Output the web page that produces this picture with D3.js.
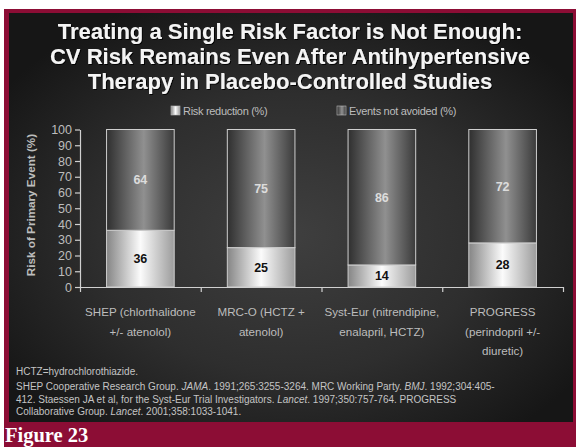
<!DOCTYPE html>
<html>
<head>
<meta charset="utf-8">
<script src="https://cdn.jsdelivr.net/npm/d3@7"></script>
<style>
  html, body { margin: 0; padding: 0; background: #ffffff; }
  svg { display: block; }
</style>
</head>
<body>
<script>
// Trials and their outcome split (percent of primary events)
const trials = ["SHEP", "MRC-O", "Syst-Eur", "PROGRESS"];
const trialLabels = [
  ["SHEP (chlorthalidone", "+/- atenolol)"],
  ["MRC-O (HCTZ +", "atenolol)"],
  ["Syst-Eur (nitrendipine,", "enalapril, HCTZ)"],
  ["PROGRESS", "(perindopril +/-", "diuretic)"]
];
const riskReduction = [36, 25, 14, 28];
const eventsNotAvoided = [64, 75, 86, 72];
const yTickValues = [0, 10, 20, 30, 40, 50, 60, 70, 80, 90, 100];
const seriesNames = ["Risk reduction (%)", "Events not avoided (%)"];

const titleLines = [
  "Treating a Single Risk Factor is Not Enough:",
  "CV Risk Remains Even After Antihypertensive",
  "Therapy in Placebo-Controlled Studies"
];
const yAxisTitle = "Risk of Primary Event (%)";
const footnoteLines = [
  [["HCTZ=hydrochlorothiazide.", false]],
  [["SHEP Cooperative Research Group. ", false], ["JAMA", true], [". 1991;265:3255-3264. MRC Working Party. ", false], ["BMJ", true], [". 1992;304:405-", false]],
  [["412. Staessen JA et al, for the Syst-Eur Trial Investigators. ", false], ["Lancet", true], [". 1997;350:757-764. PROGRESS", false]],
  [["Collaborative Group. ", false], ["Lancet", true], [". 2001;358:1033-1041.", false]]
];
const figureCaption = "Figure 23";

const W = 576, H = 447;
const svg = d3.select("body").append("svg").attr("width", W).attr("height", H);
const defs = svg.append("defs");

// Panel background: soft radial light
const bg = defs.append("radialGradient").attr("id", "bgGrad")
  .attr("cx", 0.5).attr("cy", 0.54).attr("r", 0.62);
bg.append("stop").attr("offset", 0).attr("stop-color", "#3f3f3f");
bg.append("stop").attr("offset", 0.55).attr("stop-color", "#2e2e2e");
bg.append("stop").attr("offset", 1).attr("stop-color", "#161616");

// Bar fills: cylinder-like horizontal shading
const gLight = defs.append("linearGradient").attr("id", "lightGrad")
  .attr("x1", 0).attr("x2", 1).attr("y1", 0).attr("y2", 0);
gLight.append("stop").attr("offset", 0).attr("stop-color", "#858585");
gLight.append("stop").attr("offset", 0.5).attr("stop-color", "#fbfbfb");
gLight.append("stop").attr("offset", 1).attr("stop-color", "#9c9c9c");

const gDark = defs.append("linearGradient").attr("id", "darkGrad")
  .attr("x1", 0).attr("x2", 1).attr("y1", 0).attr("y2", 0);
gDark.append("stop").attr("offset", 0).attr("stop-color", "#2f2f2f");
gDark.append("stop").attr("offset", 0.55).attr("stop-color", "#909090");
gDark.append("stop").attr("offset", 1).attr("stop-color", "#3a3a3a");

const shadow = defs.append("filter").attr("id", "titleShadow")
  .attr("x", "-5%").attr("y", "-20%").attr("width", "110%").attr("height", "150%");
shadow.append("feDropShadow").attr("dx", 1).attr("dy", 1)
  .attr("stdDeviation", 0.6).attr("flood-color", "#000").attr("flood-opacity", 0.9);

// Frame
svg.append("rect").attr("x", 4).attr("y", 9).attr("width", W - 4).attr("height", H - 9)
  .attr("fill", "#8c0d35");
svg.append("rect").attr("x", 9).attr("y", 13).attr("width", 564).attr("height", 409)
  .attr("fill", "url(#bgGrad)");

// Title
svg.append("g").attr("filter", "url(#titleShadow)")
  .selectAll("text").data(titleLines).join("text")
  .attr("x", 290).attr("y", (d, i) => 39 + i * 25)
  .attr("text-anchor", "middle")
  .attr("font-family", "Liberation Sans, Arial, sans-serif")
  .attr("font-weight", "bold").attr("font-size", 22)
  .attr("fill", "#f4f4f4")
  .text(d => d);

// Scales
const x = d3.scaleBand().domain(trials).range([80, 563])
  .paddingInner(0.44).paddingOuter(0.22);
const y = d3.scaleLinear().domain([0, 100]).range([287, 129.5]);
const xb = d3.scaleLinear().domain([0, trials.length]).range([80, 563]);

// Legend
const legend = svg.append("g");
const legendX = [171, 337];
const legendFills = ["url(#lightGrad)", "url(#darkGrad)"];
seriesNames.forEach((name, i) => {
  legend.append("rect").attr("x", legendX[i]).attr("y", 106).attr("width", 9).attr("height", 9)
    .attr("fill", legendFills[i]).attr("stroke", "#bdbdbd").attr("stroke-width", 0.6);
  legend.append("text").attr("x", legendX[i] + 12).attr("y", 114.5)
    .attr("font-family", "Liberation Sans, Arial, sans-serif")
    .attr("font-size", 11).attr("fill", "#bdbdbd")
    .attr("letter-spacing", -0.3)
    .text(name);
});

// Y axis
const yAxis = svg.append("g").attr("transform", "translate(80,0)")
  .call(d3.axisLeft(y).tickValues(yTickValues).tickSize(5).tickSizeOuter(0).tickPadding(3));
yAxis.select(".domain").attr("stroke", "#d0d0d0").attr("stroke-width", 1.2);
yAxis.selectAll(".tick line").attr("stroke", "#d0d0d0").attr("stroke-width", 1.2);
yAxis.selectAll(".tick text").attr("fill", "#bdbdbd")
  .attr("font-family", "Liberation Sans, Arial, sans-serif").attr("font-size", 12.5);

svg.append("text")
  .attr("transform", "translate(35,205) rotate(-90)")
  .attr("text-anchor", "middle")
  .attr("font-family", "Liberation Sans, Arial, sans-serif")
  .attr("font-weight", "bold").attr("font-size", 11.7)
  .attr("fill", "#bdbdbd")
  .text(yAxisTitle);

// X axis with boundary ticks between trials
const xAxis = svg.append("g").attr("transform", "translate(0,287)")
  .call(d3.axisBottom(xb).tickValues(d3.range(0, trials.length + 1)).tickSize(5)
    .tickSizeOuter(0).tickFormat(""));
xAxis.select(".domain").attr("stroke", "#d0d0d0").attr("stroke-width", 1.2);
xAxis.selectAll(".tick line").attr("stroke", "#d0d0d0").attr("stroke-width", 1.2);

// Stacked bars
const rows = trials.map((t, i) => ({ trial: t, low: riskReduction[i], high: eventsNotAvoided[i] }));
const bars = svg.append("g");
bars.selectAll("rect.low").data(rows).join("rect").attr("class", "low")
  .attr("x", d => x(d.trial)).attr("width", x.bandwidth())
  .attr("y", d => y(d.low)).attr("height", d => y(0) - y(d.low))
  .attr("fill", "url(#lightGrad)").attr("stroke", "#cfcfcf").attr("stroke-width", 1);
bars.selectAll("rect.high").data(rows).join("rect").attr("class", "high")
  .attr("x", d => x(d.trial)).attr("width", x.bandwidth())
  .attr("y", d => y(d.low + d.high)).attr("height", d => y(d.low) - y(d.low + d.high))
  .attr("fill", "url(#darkGrad)").attr("stroke", "#cfcfcf").attr("stroke-width", 1);

const labelFont = "Liberation Sans, Arial, sans-serif";
bars.selectAll("text.low").data(rows).join("text").attr("class", "low")
  .attr("x", d => x(d.trial) + x.bandwidth() / 2)
  .attr("y", d => (y(0) + y(d.low)) / 2 + 4.5)
  .attr("text-anchor", "middle").attr("font-family", labelFont)
  .attr("font-weight", "bold").attr("font-size", 12.5).attr("fill", "#111")
  .text(d => d.low);
bars.selectAll("text.high").data(rows).join("text").attr("class", "high")
  .attr("x", d => x(d.trial) + x.bandwidth() / 2)
  .attr("y", d => (y(d.low) + y(d.low + d.high)) / 2 + 4.5)
  .attr("text-anchor", "middle").attr("font-family", labelFont)
  .attr("font-weight", "bold").attr("font-size", 12.5).attr("fill", "#dcdcdc")
  .text(d => d.high);

// Category labels
const cat = svg.append("g");
trials.forEach((t, i) => {
  const txt = cat.append("text")
    .attr("text-anchor", "middle").attr("font-family", labelFont)
    .attr("font-size", 11.6).attr("fill", "#bdbdbd");
  trialLabels[i].forEach((line, j) => {
    txt.append("tspan").attr("x", x(t) + x.bandwidth() / 2)
      .attr("y", 316 + j * 19.5).text(line);
  });
});

// Footnotes
const foot = svg.append("g");
const footY = [375, 390, 403, 415];
footnoteLines.forEach((parts, i) => {
  const txt = foot.append("text").attr("x", 16).attr("y", footY[i])
    .attr("font-family", labelFont).attr("font-size", 10).attr("fill", "#c4c4c4");
  parts.forEach(([s, it]) => {
    txt.append("tspan").attr("font-style", it ? "italic" : "normal").text(s);
  });
});

// Figure caption
svg.append("text").attr("x", 5).attr("y", 442)
  .attr("font-family", "Liberation Serif, Times New Roman, serif")
  .attr("font-weight", "bold").attr("font-size", 20.5).attr("fill", "#ffffff")
  .text(figureCaption);
</script>
</body>
</html>
